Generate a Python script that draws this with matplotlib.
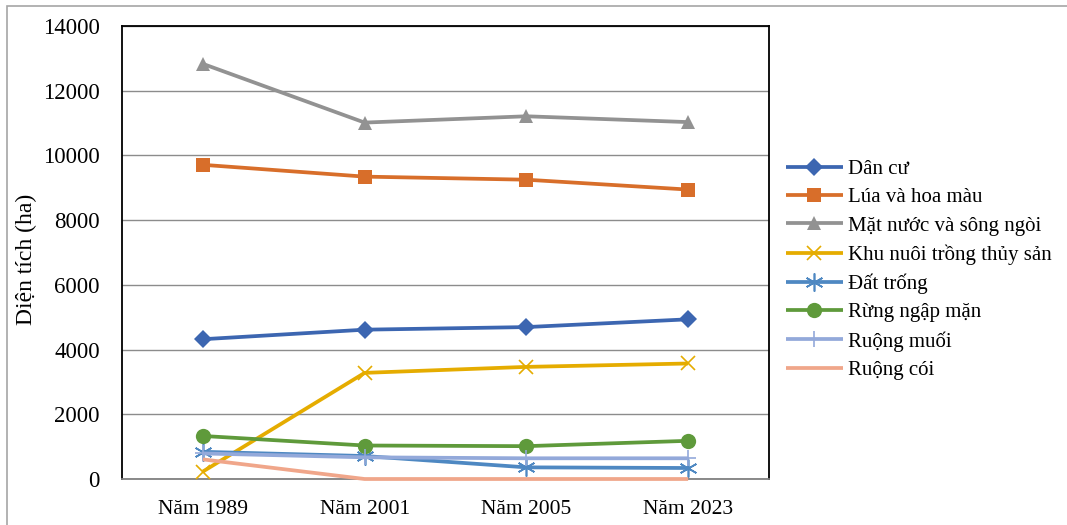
import matplotlib
matplotlib.use("Agg")
import matplotlib.pyplot as plt
from matplotlib.patches import Rectangle

plt.rcParams['font.family'] = ['Liberation Serif', 'DejaVu Serif']

years = ["Năm 1989", "Năm 2001", "Năm 2005", "Năm 2023"]

dan_cu = [4320, 4615, 4695, 4935]
lua_hoa_mau = [9710, 9345, 9250, 8945]
mat_nuoc = [12830, 11015, 11210, 11030]
nuoi_thuy_san = [230, 3280, 3465, 3570]
dat_trong = [840, 710, 360, 340]
rung_ngap_man = [1330, 1035, 1015, 1180]
ruong_muoi = [790, 670, 640, 640]
ruong_coi = [606, 0, 0, 0]

series = [
    ("Dân cư", dan_cu, "#3C66B1", "D", 9),
    ("Lúa và hoa màu", lua_hoa_mau, "#D86E2A", "s", 10),
    ("Mặt nước và sông ngòi", mat_nuoc, "#929292", "^", 10),
    ("Khu nuôi trồng thủy sản", nuoi_thuy_san, "#E5AC00", "x", 10),
    ("Đất trống", dat_trong, "#4E88C2", "*", 0),
    ("Rừng ngập mặn", rung_ngap_man, "#5F9A3B", "o", 11),
    ("Ruộng muối", ruong_muoi, "#93A9DA", "+", 11),
    ("Ruộng cói", ruong_coi, "#F0A68A", None, 0),
]

fig = plt.figure(figsize=(10.67, 5.25), dpi=100)
ax = fig.add_axes([122 / 1067, 46 / 525, 647 / 1067, 453 / 525])

# light outer frame of the chart area (runs past the right and bottom edges)
fig.patches.append(Rectangle((7 / 1067, -0.1), 1.2, 0.1 + 519 / 525, transform=fig.transFigure,
                             fill=False, edgecolor="#A6A6A6", linewidth=1.2, zorder=0))

x = range(len(years))
handles = []
for name, vals, color, marker, ms in series:
    kw = dict(color=color, linewidth=2.7, label=name, solid_capstyle="butt",
              zorder=3, clip_on=False)
    if name == "Đất trống":
        (ln,) = ax.plot(x, vals, marker=(6, 2, 0), markersize=13, markeredgewidth=1.2,
                        markeredgecolor=color, **kw)
    elif marker == "x":
        (ln,) = ax.plot(x, vals, marker="x", markersize=ms, markeredgewidth=1.2,
                        markeredgecolor=color, **kw)
    elif marker == "+":
        (ln,) = ax.plot(x, vals, marker="+", markersize=ms, markeredgewidth=1.2,
                        markeredgecolor=color, **kw)
    elif marker is None:
        (ln,) = ax.plot(x, vals, **kw)
    else:
        (ln,) = ax.plot(x, vals, marker=marker, markersize=ms, markeredgewidth=0,
                        markerfacecolor=color, **kw)
    handles.append(ln)

ax.set_xlim(-0.5, len(years) - 0.5)
ax.set_ylim(0, 14000)
ax.set_yticks(range(0, 14001, 2000))
ax.set_xticks(list(x))
ax.set_xticklabels(years)
ax.yaxis.grid(True, color="#8C8C8C", linewidth=1.0)
ax.set_axisbelow(True)
ax.tick_params(axis="both", length=0)
ax.tick_params(axis="y", labelsize=16.5, pad=16)
ax.tick_params(axis="x", labelsize=15.5, pad=15)
for side in ("top", "right", "left"):
    ax.spines[side].set_color("#000000")
    ax.spines[side].set_linewidth(1.3)
ax.spines["bottom"].set_color("#808080")
ax.spines["bottom"].set_linewidth(1.3)

ax.set_ylabel("Diện tích (ha)", fontsize=17)
ax.yaxis.set_label_coords(-0.131, 0.485)

leg = fig.legend(handles=handles, loc="upper left",
                 bbox_to_anchor=(778 / 1067, 1 - 151 / 525),
                 frameon=False, fontsize=15, handlelength=2.7,
                 handletextpad=0.25, labelspacing=0.42, borderaxespad=0)

fig.savefig("out.png", dpi=100)
